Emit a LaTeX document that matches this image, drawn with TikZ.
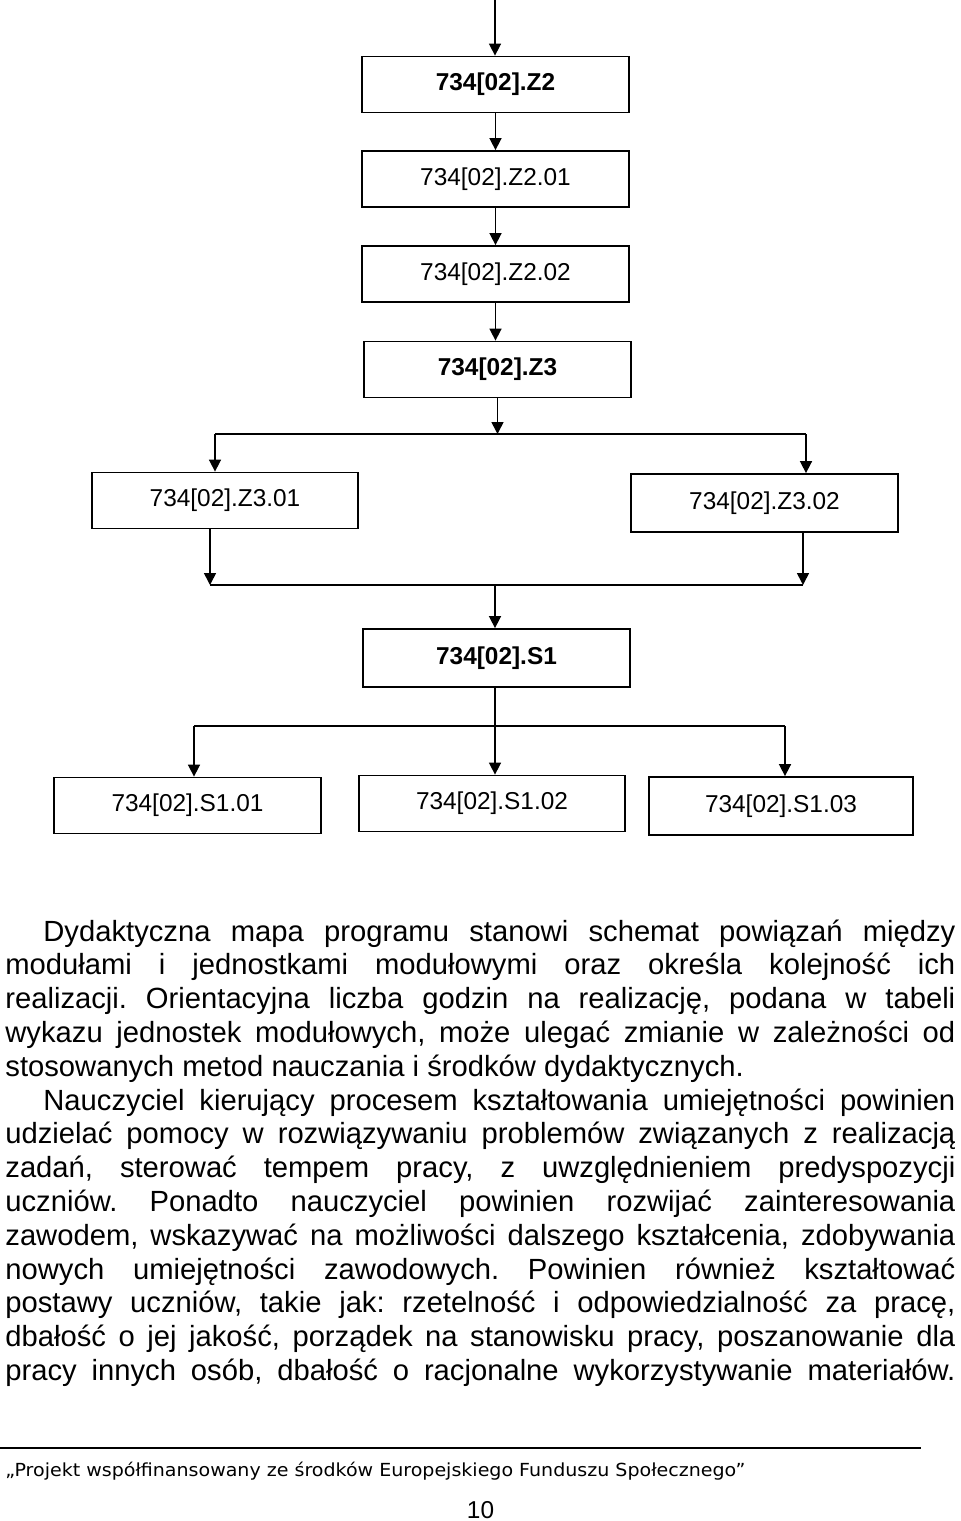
\documentclass[tikz,border=0pt]{standalone}
\usepackage{graphicx}
\usepackage{fontspec}
\setmainfont{Liberation Sans}
\newfontfamily\footfont{DejaVu Sans}
\usetikzlibrary{arrows.meta}
\newcommand\fullline[1]{\makebox[475pt][s]{#1}}
\newcommand\indline[1]{\makebox[456pt][s]{#1}}
\begin{document}
\begin{tikzpicture}[x=0.5pt,y=-0.5pt,
  box/.style={draw,line width=0.9pt,minimum width=133.5pt,minimum height=28pt,inner sep=0pt,font=\fontsize{12.2}{14}\selectfont},
  bbox/.style={box,font=\fontsize{12.2}{14}\selectfont\bfseries},
  con/.style={line width=0.8pt},
  arr/.style={con,-{Triangle[width=6pt,length=6pt]}},
  para/.style={anchor=base west,inner sep=0pt,font=\fontsize{14.6}{17}\selectfont\frenchspacing}]
\useasboundingbox (0,0) rectangle (960,1521);

% boxes
\node[bbox] (z2)   at (495.5,84.5) {734[02].Z2};
\node[box]  (z201) at (495.5,179)  {734[02].Z2.01};
\node[box]  (z202) at (495.5,274)  {734[02].Z2.02};
\node[bbox] (z3)   at (497.5,369.5) {734[02].Z3};
\node[box,minimum width=133pt]  (z301) at (225,500.5) {734[02].Z3.01};
\node[box,minimum height=29pt]  (z302) at (764.5,503) {734[02].Z3.02};
\node[bbox,minimum height=29pt] (s1) at (496.5,658) {734[02].S1};
\node[box] (s101) at (187.5,805.5) {734[02].S1.01};
\node[box,minimum width=133pt] (s102) at (492,803.5) {734[02].S1.02};
\node[box,minimum width=132pt,minimum height=29pt] (s103) at (781,806) {734[02].S1.03};

% connectors
\coordinate (top) at (495,0);
\draw[arr] (top) -- (top |- z2.north);
\draw[arr] (z2) -- (z201);
\draw[arr] (z201) -- (z202);
\draw[arr] (z202.south) -- (z202.south |- z3.north);

\coordinate (j1) at (497,434);
\coordinate (j1l) at (215,434);
\coordinate (j1r) at (806,434);
\draw[arr] (z3.south) -- (z3.south |- j1);
\draw[con] (j1l) -- (j1r);
\draw[arr] (j1l) -- (j1l |- z301.north);
\draw[arr] (j1r) -- (j1r |- z302.north);

\coordinate (j2l) at (210,585);
\coordinate (j2r) at (803,585);
\coordinate (j2) at (495,585);
\draw[arr] (j2l |- z301.south) -- (j2l);
\draw[arr] (j2r |- z302.south) -- (j2r);
\draw[con] (j2l) -- (j2r);
\draw[arr] (j2) -- (j2 |- s1.north);

\coordinate (j3) at (495,726);
\coordinate (j3l) at (194,726);
\coordinate (j3r) at (785,726);
\draw[con] (s1.south -| j3) -- (j3);
\draw[con] (j3l) -- (j3r);
\draw[arr] (j3l) -- (j3l |- s101.north);
\draw[arr] (j3) -- (j3 |- s102.north);
\draw[arr] (j3r) -- (j3r |- s103.north);

% paragraph text
\node[para] (l1)  at (43,941)    {\indline{Dydaktyczna mapa programu stanowi schemat powiązań między}};
\node[para] (l2)  at (5,974.8)   {\fullline{modułami i jednostkami modułowymi oraz określa kolejność ich}};
\node[para] (l3)  at (5,1008.6)  {\fullline{realizacji. Orientacyjna liczba godzin na realizację, podana w tabeli}};
\node[para] (l4)  at (5,1042.4)  {\fullline{wykazu jednostek modułowych, może ulegać zmianie w zależności od}};
\node[para] (l5)  at (5,1076.2)  {stosowanych metod nauczania i środków dydaktycznych.};
\node[para] (l6)  at (43,1110)   {\indline{Nauczyciel kierujący procesem kształtowania umiejętności powinien}};
\node[para] (l7)  at (5,1143.8)  {\fullline{udzielać pomocy w rozwiązywaniu problemów związanych z realizacją}};
\node[para] (l8)  at (5,1177.6)  {\fullline{zadań, sterować tempem pracy, z uwzględnieniem predyspozycji}};
\node[para] (l9)  at (5,1211.4)  {\fullline{uczniów. Ponadto nauczyciel powinien rozwijać zainteresowania}};
\node[para] (l10) at (5,1245.2)  {\fullline{zawodem, wskazywać na możliwości dalszego kształcenia, zdobywania}};
\node[para] (l11) at (5,1279)    {\fullline{nowych umiejętności zawodowych. Powinien również kształtować}};
\node[para] (l12) at (5,1312.8)  {\fullline{postawy uczniów, takie jak: rzetelność i odpowiedzialność za pracę,}};
\node[para] (l13) at (5,1346.6)  {\fullline{dbałość o jej jakość, porządek na stanowisku pracy, poszanowanie dla}};
\node[para] (l14) at (5,1380.4)  {\fullline{pracy innych osób, dbałość o racjonalne wykorzystywanie materiałów.}};

% footer
\coordinate (rl) at (0,1448);
\coordinate (rr) at (921,1448);
\draw[line width=0.7pt] (rl) -- (rr);
\node[anchor=base west,inner sep=0pt] (foot) at (5,1476)
  {\resizebox{370pt}{\height}{\footfont\fontsize{9}{11}\selectfont „Projekt współfinansowany ze środków Europejskiego Funduszu Społecznego”}};
\node[anchor=base,inner sep=0pt,font=\fontsize{12.2}{14}\selectfont] (pg) at (480.5,1518) {10};
\end{tikzpicture}
\end{document}
